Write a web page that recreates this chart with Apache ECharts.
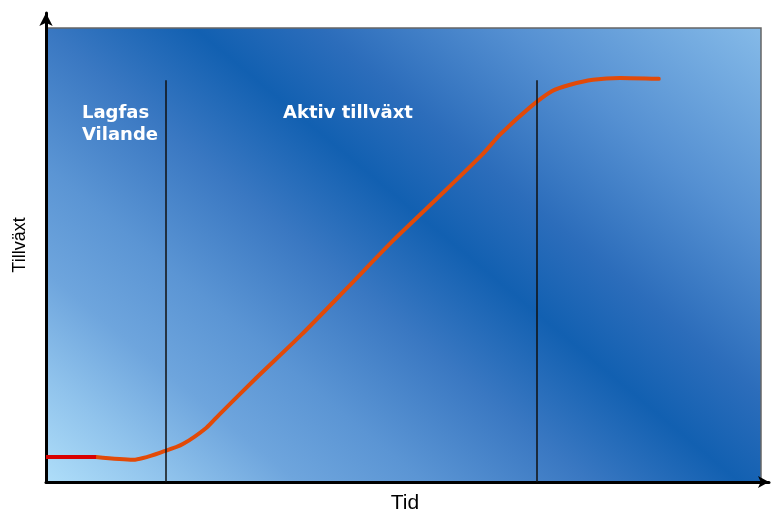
<!DOCTYPE html>
<html>
<head>
<meta charset="utf-8">
<script src="https://cdn.jsdelivr.net/npm/echarts@6/dist/echarts.min.js"></script>
<style>html,body{margin:0;padding:0;background:#fff;}#c{width:774px;height:517px;}</style>
</head>
<body>
<div id="c"></div>
<script>
// Data (x = time, y = growth, both on a 0..100 scale)
const lagX = [0, 7];
const lagY = [5.5, 5.5];
const curveX = [7, 12.2, 16.8, 19.2, 22.4, 24.2, 29.4, 35.7, 42.1, 48.5, 54.8, 61.0, 63.5, 67.6, 70.8, 73.3, 76.5, 80.3, 85.7];
const curveY = [5.5, 4.9, 6.9, 8.4, 11.9, 14.8, 22.9, 32.4, 42.7, 53.1, 62.6, 72.1, 76.5, 82.4, 86.1, 87.5, 88.6, 89.0, 88.8];
const phaseBoundaries = [16.8, 68.7];
const boundaryTop = 88.5;
const phaseLabels = ['Lagfas', 'Vilande', 'Aktiv tillväxt'];
const xTitle = 'Tid';
const yTitle = 'Tillväxt';

const zip = (xs, ys) => xs.map((x, i) => [x, ys[i]]);

const chart = echarts.init(document.getElementById('c'), null, {renderer: 'canvas'});

const bg = {
  type: 'linear', global: true,
  x: 46, y: 482, x2: 562, y2: -138,
  colorStops: [
    {offset: 0, color: '#afdef9'},
    {offset: 0.1, color: '#90c3ec'},
    {offset: 0.2, color: '#6ea5dd'},
    {offset: 0.3, color: '#5b95d4'},
    {offset: 0.43, color: '#3a78c2'},
    {offset: 0.55, color: '#1260b1'},
    {offset: 0.65, color: '#2c6dbb'},
    {offset: 0.8, color: '#5590d2'},
    {offset: 1, color: '#85bae8'}
  ]
};

chart.setOption({
  animation: false,
  grid: [
    {left: 46, top: 28, width: 715, height: 454, show: true, backgroundColor: bg, borderColor: '#666', borderWidth: 1.5},
    {left: 46, top: 13, right: 5, bottom: 35, show: false}
  ],
  xAxis: [
    {gridIndex: 0, type: 'value', min: 0, max: 100, show: false},
    {gridIndex: 1, type: 'value', min: 0, max: 100,
      axisLine: {show: true, onZero: false, symbol: ['none', 'arrow'], symbolSize: [9, 11], lineStyle: {color: '#000', width: 3}},
      axisTick: {show: false}, axisLabel: {show: false}, splitLine: {show: false}}
  ],
  yAxis: [
    {gridIndex: 0, type: 'value', min: 0, max: 100, show: false},
    {gridIndex: 1, type: 'value', min: 0, max: 100,
      axisLine: {show: true, onZero: false, symbol: ['none', 'arrow'], symbolSize: [10, 13], lineStyle: {color: '#000', width: 3}},
      axisTick: {show: false}, axisLabel: {show: false}, splitLine: {show: false}}
  ],
  series: [
    {
      type: 'line', xAxisIndex: 0, yAxisIndex: 0,
      data: zip(curveX, curveY), smooth: 0.25, showSymbol: false, symbol: 'none',
      lineStyle: {color: '#e24a08', width: 4, cap: 'round'},
      z: 3,
      markLine: {
        silent: true, symbol: 'none', label: {show: false},
        lineStyle: {color: '#111', width: 1.5, type: 'solid'},
        data: phaseBoundaries.map(b => [{coord: [b, 0]}, {coord: [b, boundaryTop]}])
      }
    },
    {
      type: 'line', xAxisIndex: 0, yAxisIndex: 0,
      data: zip(lagX, lagY), showSymbol: false, symbol: 'none',
      lineStyle: {color: '#d90000', width: 4}, z: 4
    }
  ],
  graphic: [
    {type: 'text', left: 82, top: 104, style: {text: phaseLabels[0], fill: '#fff', font: 'bold 18px "DejaVu Sans"'}},
    {type: 'text', left: 82, top: 126, style: {text: phaseLabels[1], fill: '#fff', font: 'bold 18px "DejaVu Sans"'}},
    {type: 'text', left: 283, top: 104, style: {text: phaseLabels[2], fill: '#fff', font: 'bold 18px "DejaVu Sans"'}},
    {type: 'text', x: 405, y: 503, style: {text: xTitle, fill: '#000', font: '21px "Liberation Sans"', align: 'center', verticalAlign: 'middle'}},
    {type: 'text', x: 20, y: 245, rotation: Math.PI / 2,
      style: {text: yTitle, fill: '#000', font: '18px "Liberation Sans"', align: 'center', verticalAlign: 'middle'}}
  ]
});
</script>
</body>
</html>
